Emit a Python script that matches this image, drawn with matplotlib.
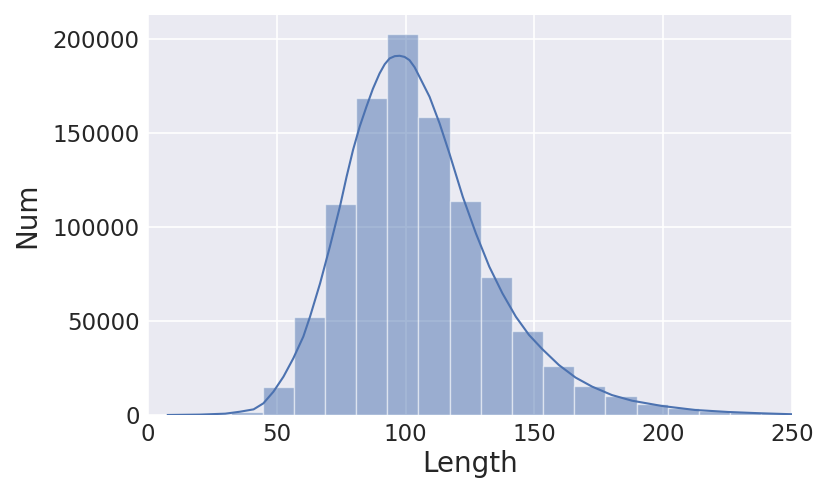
import matplotlib
matplotlib.use("Agg")
import matplotlib.pyplot as plt
import numpy as np

# Histogram bins
BIN_START = 8.16
BIN_WIDTH = 12.1
counts = [150, 400, 1800, 14700, 52100, 112300, 168400, 202700, 158300, 113600,
          73200, 44700, 26100, 15400, 10100, 5700, 3550, 2300, 1400, 900]

# KDE curve points
kde_x = [7.7, 20.0, 30.0, 35.8, 41.0, 44.8, 48.7, 52.6, 56.4, 60.3, 62.9, 66.8,
         70.6, 74.5, 77.1, 79.6, 82.2, 84.8, 87.3, 89.9, 91.9, 93.8, 95.8, 97.7,
         99.6, 101.5, 103.5, 105.4, 109.3, 113.2, 117.0, 122.2, 127.3, 132.5,
         137.6, 142.8, 147.9, 153.1, 159.5, 166.0, 172.4, 180.1, 187.9, 199.5,
         212.4, 225.2, 238.1, 250.0]
kde_y = [0, 200, 700, 1760, 3000, 6200, 12400, 20400, 30100, 41700, 52300, 70000,
         89500, 110800, 126800, 141000, 153500, 164000, 173500, 181700, 186600,
         189700, 190900, 191100, 190500, 188800, 185000, 179900, 169300, 155100,
         139200, 116100, 96600, 78900, 64700, 52300, 42600, 35000, 26600, 19900,
         15100, 10600, 7600, 4800, 2660, 1600, 900, 400]

x_ticks = [0, 50, 100, 150, 200, 250]
y_ticks = [0, 50000, 100000, 150000, 200000]

# darkgrid-like look without seaborn
plt.rcParams.update({
    "axes.facecolor": "#EAEAF2",
    "axes.edgecolor": "white",
    "axes.grid": True,
    "grid.color": "white",
    "grid.linewidth": 1.2,
    "axes.axisbelow": True,
    "xtick.color": "#262626",
    "ytick.color": "#262626",
    "axes.labelcolor": "#262626",
    "font.family": "DejaVu Sans",
})

fig = plt.figure(figsize=(8.3, 4.98), dpi=100)
ax = fig.add_axes([0.1783, 0.1667, 0.9542 - 0.1783, 0.9699 - 0.1667])

edges = BIN_START + BIN_WIDTH * np.arange(len(counts))
ax.bar(edges, counts, width=BIN_WIDTH, align="edge", color="#4C72B0",
       alpha=0.5, edgecolor="white", linewidth=1.0)

ax.plot(kde_x, kde_y, color="#4C72B0", linewidth=1.5)

ax.set_xlim(0, 250)
ax.set_ylim(0, 212800)
ax.set_xticks(x_ticks)
ax.set_yticks(y_ticks)
ax.tick_params(axis="both", length=0, labelsize=16.5, pad=6)
ax.set_xlabel("Length", fontsize=20, labelpad=3)
ax.set_ylabel("Num", fontsize=20, labelpad=8)
for s in ax.spines.values():
    s.set_visible(False)

fig.savefig("out.png", dpi=100)
